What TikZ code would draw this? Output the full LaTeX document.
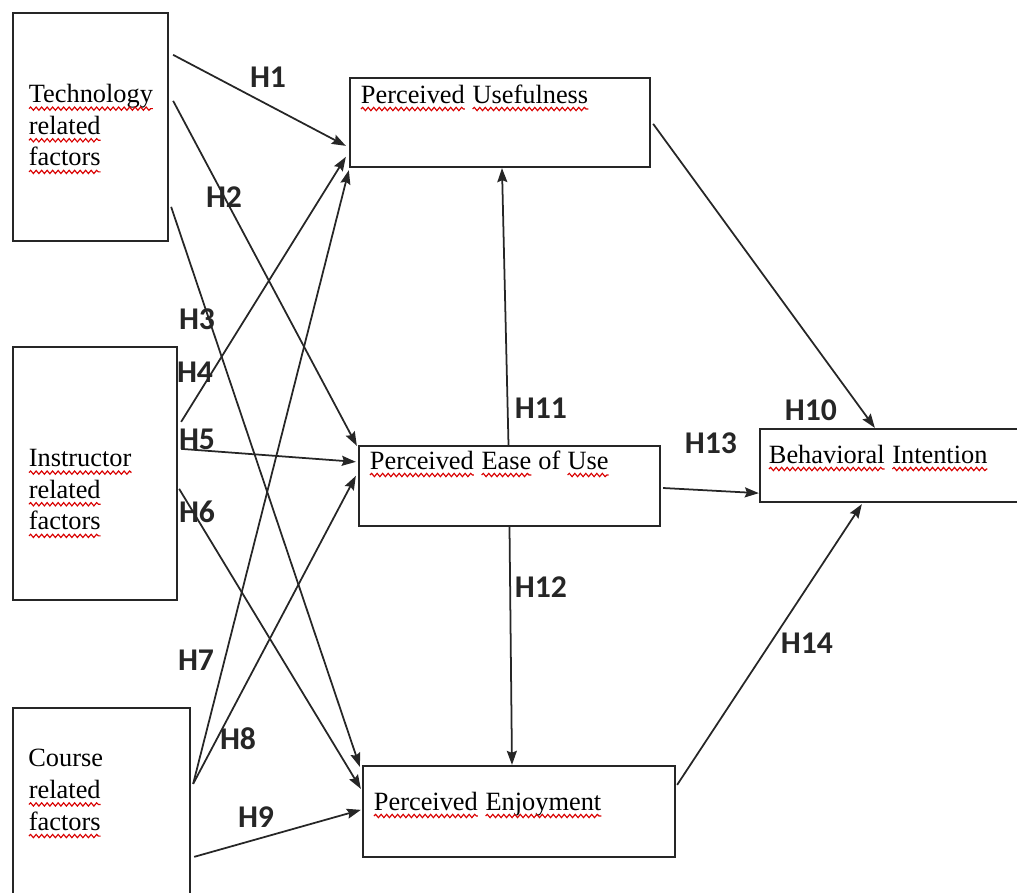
\documentclass[tikz,border=0pt]{standalone}
\usepackage{fontspec}
\setmainfont{Liberation Serif}
\newfontfamily\hypfont{Carlito}
\usetikzlibrary{arrows.meta,decorations.pathmorphing}

% red spell-check wave under a word
\newcommand\redwave[1]{\tikz[baseline=(wvword.base),x=1cm,y=1cm]{%
  \node[inner sep=0pt, outer sep=0pt] (wvword) {#1};
  \draw[red!85!black, line width=0.65pt, decorate,
    decoration={snake, segment length=1.1mm, amplitude=0.33mm}]
    ([yshift=-1.2mm]wvword.base west) -- ([yshift=-1.2mm]wvword.base east);}}

\begin{document}
\begin{tikzpicture}[
  x=0.2mm, y=-0.2mm,
  >={Stealth[length=2.8mm,width=2mm,inset=0.4mm]},
  factorbox/.style={draw=black!85, line width=1.3pt, inner sep=0pt},
  boxtext/.style={font=\fontsize{15}{18}\selectfont, inner sep=0pt, align=left},
  hyplabel/.style={font=\hypfont\bfseries\fontsize{18}{20}\selectfont, text=black!85, inner sep=0pt},
  pathlink/.style={->, draw=black!85, line width=1pt}
]
  \useasboundingbox (0,0) rectangle (1017,893);
  \clip (0,0) rectangle (1017,893);

  % boxes
  \node[factorbox, minimum width=31mm, minimum height=45.6mm] (tech) at (90.5,127) {};
  \node[factorbox, minimum width=32.8mm, minimum height=50.6mm] (instr) at (95,473.5) {};
  \node[factorbox, minimum width=35.4mm, minimum height=40mm] (course) at (101.5,808) {};
  \node[factorbox, minimum width=60mm, minimum height=17.8mm] (pu) at (500,122.5) {};
  \node[factorbox, minimum width=60.2mm, minimum height=16mm] (peu) at (509.5,486) {};
  \node[factorbox, minimum width=62.4mm, minimum height=18.2mm] (pe) at (519,811.5) {};
  \node[factorbox, minimum width=54mm, minimum height=14.6mm] (bi) at (895,465.5) {};

  % box texts
  \node[boxtext, anchor=north west] (techtext) at (28,84) {\redwave{Technology}\\ \redwave{related}\\ \redwave{factors}};
  \node[boxtext, anchor=north west] (instrtext) at (28,449) {\redwave{Instructor}\\ \redwave{related}\\ \redwave{factors}};
  \node[boxtext, anchor=north west] (coursetext) at (28,749) {Course\\ \redwave{related}\\ \redwave{factors}};
  \node[boxtext, anchor=base west] (putext) at (360,103) {\redwave{Perceived} \redwave{Usefulness}};
  \node[boxtext, anchor=base west] (peutext) at (369,469) {\redwave{Perceived} \redwave{Ease} of \redwave{Use}};
  \node[boxtext, anchor=base west] (petext) at (373,810) {\redwave{Perceived} \redwave{Enjoyment}};
  \node[boxtext, anchor=base west] (bitext) at (768,463) {\redwave{Behavioral} \redwave{Intention}};

  % hypothesised paths
  \draw[pathlink] ([shift={(4,43)}]tech.north east) -- ([shift={(-3,69)}]pu.north west);
  \draw[pathlink] ([shift={(4,89)}]tech.north east) -- ([shift={(-1,1)}]peu.north west);
  \draw[pathlink] ([shift={(2,195)}]tech.north east) -- ([shift={(-2,2)}]pe.north west);
  \draw[pathlink] ([shift={(3,76)}]instr.north east) -- ([shift={(-3,80)}]pu.north west);
  \draw[pathlink] ([shift={(3,103)}]instr.north east) -- ([shift={(-2,17)}]peu.north west);
  \draw[pathlink] ([shift={(1,143)}]instr.north east) -- ([shift={(-1,24)}]pe.north west);
  \draw[pathlink] ([shift={(2,77)}]course.north east) -- ([shift={(0,2)}]pu.south west);
  \draw[pathlink] ([shift={(2,77)}]course.north east) -- ([shift={(-2,31)}]peu.north west);
  \draw[pathlink] ([shift={(3,150)}]course.north east) -- ([shift={(-1,45)}]pe.north west);
  \draw[pathlink] ([shift={(2,47)}]pu.north east) -- ([shift={(116,0)}]bi.north west);
  \draw[pathlink] ([shift={(-1,0)}]peu.north) -- ([shift={(2,0)}]pu.south);
  \draw[pathlink] (peu.south) -- ([shift={(-7,0)}]pe.north);
  \draw[pathlink] ([shift={(2,2)}]peu.east) -- ([shift={(0,-10)}]bi.south west);
  \draw[pathlink] ([shift={(1,20)}]pe.north east) -- ([shift={(103,1)}]bi.south west);

  % labels
  \node[hyplabel] (h1) at (268,77) {H1};
  \node[hyplabel] (h2) at (224,197) {H2};
  \node[hyplabel] (h3) at (197,319) {H3};
  \node[hyplabel] (h4) at (195,372) {H4};
  \node[hyplabel] (h5) at (197,439) {H5};
  \node[hyplabel] (h6) at (197,512) {H6};
  \node[hyplabel] (h7) at (196,660) {H7};
  \node[hyplabel] (h8) at (238,739) {H8};
  \node[hyplabel] (h9) at (256,817) {H9};
  \node[hyplabel] (h10) at (811,410) {H10};
  \node[hyplabel] (h11) at (541,408) {H11};
  \node[hyplabel] (h12) at (541,587) {H12};
  \node[hyplabel] (h13) at (711,443) {H13};
  \node[hyplabel] (h14) at (807,643) {H14};
\end{tikzpicture}
\end{document}
